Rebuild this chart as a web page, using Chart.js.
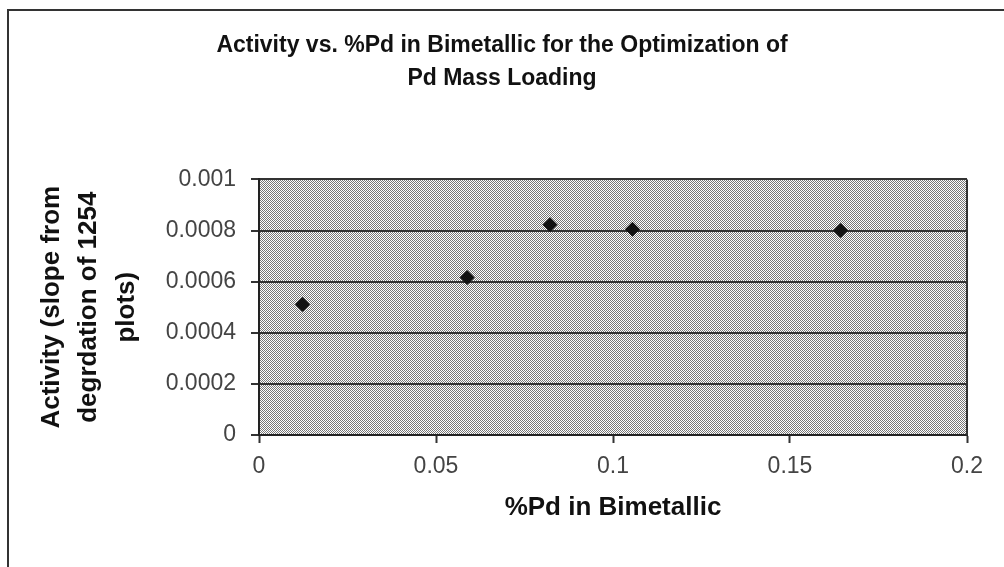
<!DOCTYPE html>
<html><head><meta charset="utf-8">
<script src="https://cdn.jsdelivr.net/npm/chart.js@4.4.0/dist/chart.umd.min.js"></script>
<style>html,body{margin:0;padding:0;background:#fff}#wrap{width:1004px;height:567px;position:relative}</style>
</head><body><div id="wrap"><canvas id="c" width="1004" height="567"></canvas></div>
<script>
const titleLines = ['Activity vs. %Pd in Bimetallic for the Optimization of', 'Pd Mass Loading'];
const xTitle = '%Pd in Bimetallic';
const yTitleLines = ['Activity (slope from', 'degrdation of 1254', 'plots)'];
const pdPercent = [0.0123, 0.0588, 0.0822, 0.1055, 0.1643];
const activity = [0.000511, 0.000616, 0.000823, 0.000805, 0.000800];
const xTickLabels = ['0', '0.05', '0.1', '0.15', '0.2'];
const yTickLabels = ['0', '0.0002', '0.0004', '0.0006', '0.0008', '0.001'];

const FONT = "'Liberation Sans', Arial, sans-serif";

function makePattern() {
  const p = document.createElement('canvas');
  p.width = 2; p.height = 2;
  const g = p.getContext('2d');
  g.fillStyle = '#ffffff'; g.fillRect(0, 0, 2, 2);
  g.fillStyle = '#777777'; g.fillRect(0, 0, 1, 1); g.fillRect(1, 1, 1, 1);
  return document.getElementById('c').getContext('2d').createPattern(p, 'repeat');
}
const plotPattern = makePattern();

const decor = {
  id: 'decor',
  beforeDraw(chart) {
    const {ctx, chartArea: a} = chart;
    ctx.save();
    ctx.fillStyle = '#fff';
    ctx.fillRect(0, 0, chart.width, chart.height);
    ctx.fillStyle = plotPattern;
    ctx.fillRect(a.left, a.top, a.right - a.left, a.bottom - a.top);
    ctx.strokeStyle = '#333';
    ctx.lineWidth = 2;
    ctx.beginPath();
    ctx.moveTo(8, chart.height);
    ctx.lineTo(8, 10);
    ctx.lineTo(chart.width, 10);
    ctx.stroke();
    ctx.restore();
  },
  beforeDatasetsDraw(chart) {
    const {ctx, chartArea: a} = chart;
    ctx.save();
    ctx.strokeStyle = '#333';
    ctx.lineWidth = 2;
    ctx.beginPath();
    ctx.moveTo(a.right, a.top);
    ctx.lineTo(a.right, a.bottom);
    ctx.stroke();
    ctx.restore();
  }
};

new Chart(document.getElementById('c'), {
  type: 'scatter',
  data: {
    datasets: [{
      data: pdPercent.map((x, i) => ({x: x, y: activity[i]})),
      pointStyle: 'rectRot',
      pointRadius: 7,
      pointHoverRadius: 7,
      backgroundColor: '#111',
      borderColor: '#111',
      borderWidth: 1
    }]
  },
  options: {
    responsive: false,
    animation: false,
    devicePixelRatio: 1,
    layout: {padding: {left: 10, right: 10, top: 0, bottom: 0}},
    plugins: {
      legend: {display: false},
      tooltip: {enabled: false},
      title: {
        display: true,
        text: titleLines,
        color: '#111',
        font: {family: FONT, size: 23, weight: 'bold', lineHeight: 1.4},
        padding: {top: 30, bottom: 85}
      }
    },
    scales: {
      x: {
        type: 'linear',
        min: 0, max: 0.2,
        afterFit(s) { s.height = 132; },
        ticks: {
          stepSize: 0.05,
          padding: 10,
          color: '#444',
          font: {family: FONT, size: 23},
          callback: (v, i) => xTickLabels[i]
        },
        grid: {drawOnChartArea: false, drawTicks: true, tickLength: 8, tickColor: '#333', tickWidth: 2},
        border: {display: true, color: '#222', width: 2},
        title: {
          display: true,
          text: xTitle,
          color: '#111',
          font: {family: FONT, size: 26, weight: 'bold', lineHeight: 1.2},
          padding: {top: 0, bottom: 44}
        }
      },
      y: {
        type: 'linear',
        min: 0, max: 0.001,
        afterFit(s) { s.width = 249; },
        ticks: {
          stepSize: 0.0002,
          padding: 15,
          color: '#444',
          font: {family: FONT, size: 23},
          callback: (v, i) => yTickLabels[i]
        },
        grid: {color: '#333', lineWidth: 2, drawTicks: true, tickLength: 8, tickColor: '#333', tickWidth: 2},
        border: {display: true, color: '#222', width: 2},
        title: {
          display: true,
          text: yTitleLines,
          color: '#111',
          font: {family: FONT, size: 26, weight: 'bold', lineHeight: 1.44},
          padding: {top: 23, bottom: 0}
        }
      },
      yPad: {
        type: 'linear',
        position: 'right',
        min: 0, max: 1,
        afterFit(s) { s.width = 27; },
        ticks: {display: false},
        grid: {display: false, drawTicks: false},
        border: {display: false},
        title: {display: false}
      }
    }
  },
  plugins: [decor]
});
</script>
</body></html>
